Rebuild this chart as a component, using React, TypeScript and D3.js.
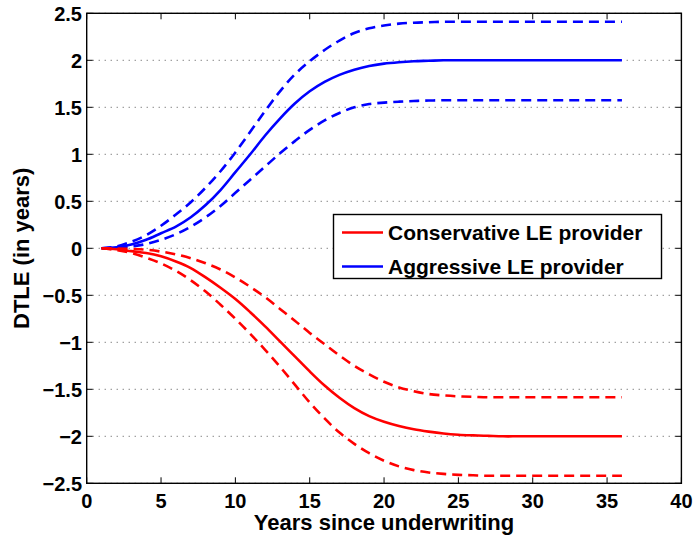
import React from "react";
import * as d3 from "d3";

// years since underwriting
const years = [1, 2, 3, 4, 5, 6, 7, 8, 9, 10, 11, 12, 13, 14, 15, 16, 17, 18, 19, 20, 21, 22, 23, 24, 25, 26, 27, 28, 29, 30, 31, 32, 33, 34, 35, 36];

// aggressive LE provider (blue)
const aggressive = [0, 0.01, 0.04, 0.09, 0.16, 0.23, 0.33, 0.46, 0.62, 0.81, 1.0, 1.2, 1.38, 1.54, 1.67, 1.77, 1.845, 1.9, 1.94, 1.965, 1.98, 1.99, 1.995, 2, 2, 2, 2, 2, 2, 2, 2, 2, 2, 2, 2, 2];
const aggressiveHigh = [0, 0.02, 0.07, 0.14, 0.24, 0.36, 0.49, 0.645, 0.82, 1.02, 1.24, 1.46, 1.67, 1.85, 1.99, 2.11, 2.21, 2.29, 2.34, 2.37, 2.39, 2.4, 2.405, 2.41, 2.41, 2.41, 2.41, 2.41, 2.41, 2.41, 2.41, 2.41, 2.41, 2.41, 2.41, 2.41];
const aggressiveLow = [0, 0.005, 0.02, 0.045, 0.09, 0.15, 0.23, 0.33, 0.45, 0.59, 0.73, 0.87, 1.01, 1.14, 1.26, 1.36, 1.44, 1.5, 1.535, 1.55, 1.56, 1.567, 1.572, 1.575, 1.575, 1.575, 1.575, 1.575, 1.575, 1.575, 1.575, 1.575, 1.575, 1.575, 1.575, 1.575];

// conservative LE provider (red)
const conservative = [0, -0.01, -0.03, -0.05, -0.085, -0.14, -0.21, -0.31, -0.42, -0.54, -0.68, -0.83, -0.99, -1.15, -1.31, -1.46, -1.59, -1.7, -1.785, -1.845, -1.89, -1.925, -1.95, -1.97, -1.983, -1.99, -1.995, -2, -2, -2, -2, -2, -2, -2, -2, -2];
const conservativeHigh = [0, -0.002, -0.006, -0.015, -0.035, -0.065, -0.105, -0.16, -0.225, -0.31, -0.41, -0.52, -0.645, -0.77, -0.9, -1.02, -1.14, -1.25, -1.34, -1.42, -1.48, -1.52, -1.55, -1.565, -1.575, -1.58, -1.585, -1.585, -1.585, -1.585, -1.585, -1.585, -1.585, -1.585, -1.585, -1.585];
const conservativeLow = [0, -0.02, -0.05, -0.1, -0.16, -0.24, -0.34, -0.46, -0.6, -0.75, -0.91, -1.08, -1.26, -1.45, -1.64, -1.81, -1.96, -2.08, -2.18, -2.26, -2.32, -2.36, -2.385, -2.4, -2.41, -2.415, -2.42, -2.42, -2.42, -2.42, -2.42, -2.42, -2.42, -2.42, -2.42, -2.42];

const xTicks = [0, 5, 10, 15, 20, 25, 30, 35, 40];
const yTicks = [-2.5, -2, -1.5, -1, -0.5, 0, 0.5, 1, 1.5, 2, 2.5];

const legendItems = ["Conservative LE provider", "Aggressive LE provider"];

const W = 696;
const H = 541;
const left = 86.7;
const right = 681.4;
const top = 13.3;
const bottom = 483.3;
const font = "'Liberation Sans', Arial, Helvetica, sans-serif";

const App = () => {
  const x = d3.scaleLinear().domain([0, 40]).range([left, right]);
  const y = d3.scaleLinear().domain([-2.5, 2.5]).range([bottom, top]);

  const line = d3
    .line<number>()
    .x((d, i) => x(years[i]))
    .y((d) => y(d))
    .curve(d3.curveCatmullRom.alpha(0.5));

  const series = [
    { values: aggressiveHigh, color: "#0000ff", dash: "10,6" },
    { values: aggressiveLow, color: "#0000ff", dash: "10,6" },
    { values: aggressive, color: "#0000ff", dash: null },
    { values: conservativeHigh, color: "#ff0000", dash: "10,6" },
    { values: conservativeLow, color: "#ff0000", dash: "10,6" },
    { values: conservative, color: "#ff0000", dash: null },
  ];

  const fmt = (v: number) => (v < 0 ? "\u2212" + Math.abs(v) : String(v));

  return (
    <svg
      width={W}
      height={H}
      style={{ position: "absolute", left: 0, top: 0, background: "#fff" }}
      fontFamily={font}
      fontWeight="bold"
    >
      <rect width={W} height={H} fill="#fff" />

      {/* horizontal dotted grid */}
      {yTicks.map((t) => (
        <line
          key={"g" + t}
          x1={left}
          x2={right}
          y1={y(t)}
          y2={y(t)}
          stroke="#555"
          strokeWidth={1}
          strokeDasharray="1,5"
        />
      ))}

      {/* curves */}
      {series.map((s, i) => (
        <path
          key={"s" + i}
          d={line(s.values) || ""}
          fill="none"
          stroke={s.color}
          strokeWidth={2.6}
          strokeDasharray={s.dash || undefined}
        />
      ))}

      {/* axes box */}
      <rect x={left} y={top} width={right - left} height={bottom - top} fill="none" stroke="#000" strokeWidth={1.4} />

      {/* ticks */}
      {xTicks.map((t) => (
        <g key={"xt" + t}>
          <line x1={x(t)} x2={x(t)} y1={bottom} y2={bottom - 6} stroke="#000" strokeWidth={1} />
          <line x1={x(t)} x2={x(t)} y1={top} y2={top + 6} stroke="#000" strokeWidth={1} />
          <text x={x(t)} y={507.5} textAnchor="middle" fontSize={20}>
            {t}
          </text>
        </g>
      ))}
      {yTicks.map((t) => (
        <g key={"yt" + t}>
          <line x1={left} x2={left + 6} y1={y(t)} y2={y(t)} stroke="#000" strokeWidth={1} />
          <line x1={right} x2={right - 6} y1={y(t)} y2={y(t)} stroke="#000" strokeWidth={1} />
          <text x={82} y={y(t) + 7.2} textAnchor="end" fontSize={20}>
            {fmt(t)}
          </text>
        </g>
      ))}

      {/* axis labels */}
      <text x={(left + right) / 2} y={530} textAnchor="middle" fontSize={22}>
        Years since underwriting
      </text>
      <text transform={`translate(29,${(top + bottom) / 2}) rotate(-90)`} textAnchor="middle" fontSize={22}>
        DTLE (in years)
      </text>

      {/* legend */}
      <rect x={333.5} y={214.5} width={328} height={64} fill="#fff" stroke="#000" strokeWidth={1.4} />
      {legendItems.map((name, i) => {
        const cy = 232.5 + i * 34;
        const color = i === 0 ? "#ff0000" : "#0000ff";
        return (
          <g key={name}>
            <line x1={342} x2={383} y1={cy} y2={cy} stroke={color} strokeWidth={2.6} />
            <text x={388} y={cy + 7.5} fontSize={21}>
              {name}
            </text>
          </g>
        );
      })}
    </svg>
  );
};

export default App;
